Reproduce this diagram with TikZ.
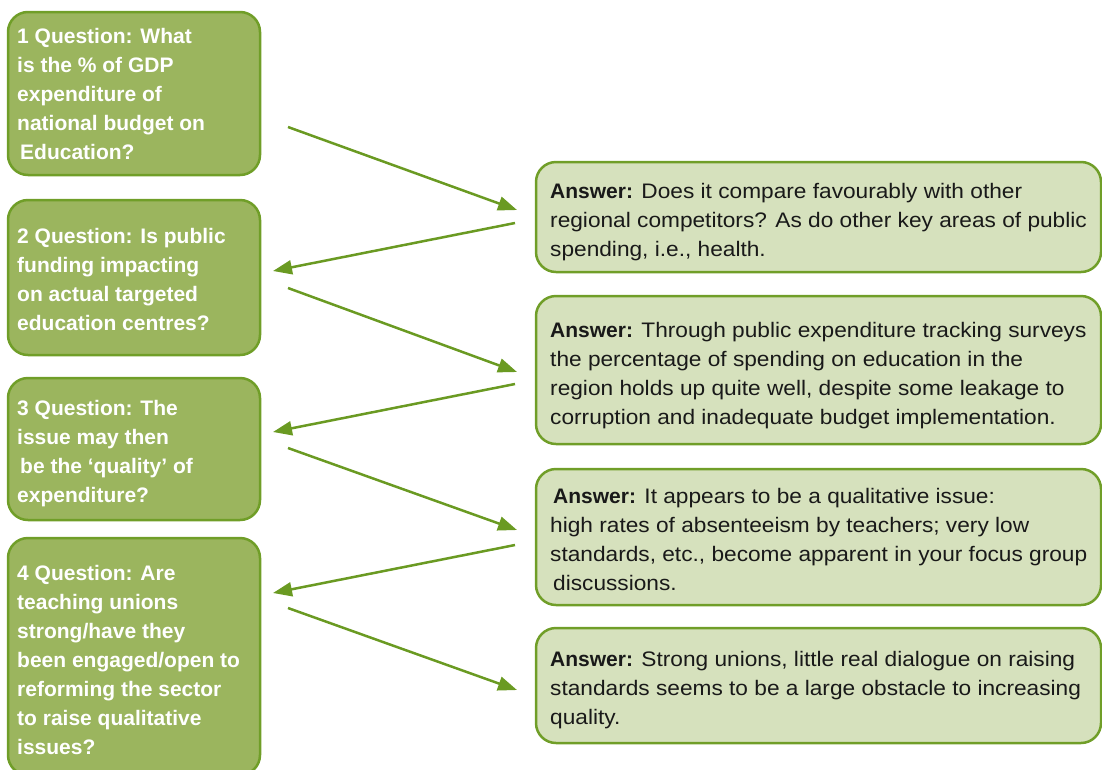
\documentclass[tikz,border=0pt]{standalone}
\usepackage{fontspec}
\setmainfont{Liberation Sans}
\newfontfamily\ansfont[FakeStretch=1.08]{Liberation Sans}
\usetikzlibrary{arrows.meta}
\definecolor{qfill}{RGB}{155,181,94}
\definecolor{edgec}{RGB}{112,158,40}
\definecolor{afill}{RGB}{214,225,189}
\definecolor{arrowc}{RGB}{106,154,34}
\newcommand\anslabel{{\normalfont\bfseries Answer:}}
\begin{document}
\begin{tikzpicture}[x=1pt,y=-1pt,
  box/.style={draw=edgec, line width=2.5pt, rounded corners=20pt, inner sep=0pt, outer sep=0pt, anchor=north west},
  qbox/.style={box, fill=qfill},
  abox/.style={box, fill=afill},
  qtext/.style={anchor=north west, inner sep=0pt, align=left, text=white, font=\fontsize{21}{29}\selectfont\bfseries},
  atext/.style={anchor=north west, inner sep=0pt, align=left, text=black!90, font=\fontsize{21}{29}\selectfont\ansfont},
  link/.style={draw=arrowc, line width=2.5pt, -{Triangle[length=19pt,width=14pt]}}
]
\useasboundingbox (0,0) rectangle (1102,769);

% question boxes (left column)
\node[qbox, minimum width=252pt, minimum height=163pt] (q1) at (8,12) {};
\node[qbox, minimum width=252pt, minimum height=155pt] (q2) at (8,200) {};
\node[qbox, minimum width=252pt, minimum height=142pt] (q3) at (8,378) {};
\node[qbox, minimum width=252pt, minimum height=237pt] (q4) at (8,538) {};

% answer boxes (right column)
\node[abox, minimum width=565pt, minimum height=110pt] (a1) at (536,162) {};
\node[abox, minimum width=565pt, minimum height=148pt] (a2) at (536,296) {};
\node[abox, minimum width=565pt, minimum height=136pt] (a3) at (536,469) {};
\node[abox, minimum width=565pt, minimum height=115pt] (a4) at (536,628) {};

% question texts
\node[qtext] (q1t) at (17,27.7) {1 Question: What\\ is the \% of GDP\\ expenditure of\\ national budget on\\ \hspace*{3pt}Education?};
\node[qtext] (q2t) at (17,227.7) {2 Question: Is public\\ funding impacting\\ on actual targeted\\ education centres?};
\node[qtext] (q3t) at (17,399.7) {3 Question: The\\ issue may then\\ \hspace*{3pt}be the ‘quality’ of\\ expenditure?};
\node[qtext] (q4t) at (17,564.7) {4 Question: Are\\ teaching unions\\ strong/have they\\ been engaged/open to\\ reforming the sector\\ to raise qualitative\\ issues?};

% answer texts
\node[atext] (a1t) at (550,182.7) {\anslabel{} Does it compare favourably with other\\ regional competitors? As do other key areas of public\\ spending, i.e., health.};
\node[atext] (a2t) at (550,321.7) {\anslabel{} Through public expenditure tracking surveys\\ the percentage of spending on education in the\\ region holds up quite well, despite some leakage to\\ corruption and inadequate budget implementation.};
\node[atext] (a3t) at (550,487.7) {\hspace*{3pt}\anslabel{} It appears to be a qualitative issue:\\ high rates of absenteeism by teachers; very low\\ standards, etc., become apparent in your focus group\\ \hspace*{3pt}discussions.};
\node[atext] (a4t) at (550,650.7) {\anslabel{} Strong unions, little real dialogue on raising\\ standards seems to be a large obstacle to increasing\\ quality.};

% connector end points in the gap between the columns
\coordinate (s1) at (288,127);  \coordinate (e1) at (517,210);
\coordinate (s2) at (515,223);  \coordinate (e2) at (273,271);
\coordinate (s3) at (288,288);  \coordinate (e3) at (517,372);
\coordinate (s4) at (515,384);  \coordinate (e4) at (273,432);
\coordinate (s5) at (288,448);  \coordinate (e5) at (517,530);
\coordinate (s6) at (515,545);  \coordinate (e6) at (273,593);
\coordinate (s7) at (288,608);  \coordinate (e7) at (517,690);

\draw[link] (s1) -- (e1);
\draw[link] (s2) -- (e2);
\draw[link] (s3) -- (e3);
\draw[link] (s4) -- (e4);
\draw[link] (s5) -- (e5);
\draw[link] (s6) -- (e6);
\draw[link] (s7) -- (e7);
\end{tikzpicture}
\end{document}
